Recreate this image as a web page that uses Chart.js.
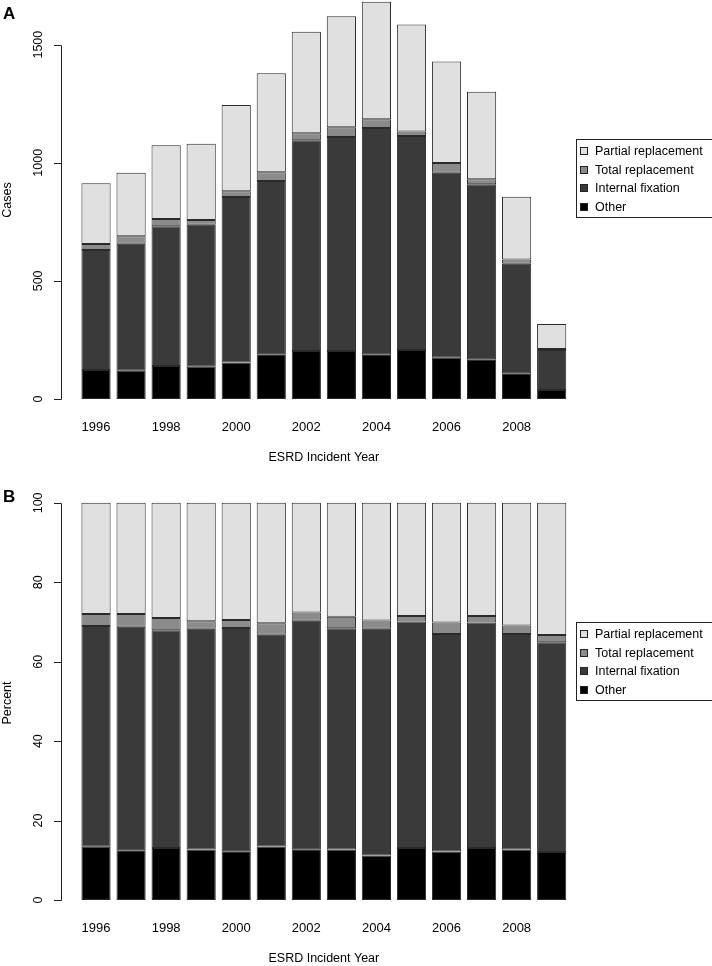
<!DOCTYPE html>
<html>
<head>
<meta charset="utf-8">
<title>Hip fracture surgery by ESRD incident year</title>
<script src="https://cdn.jsdelivr.net/npm/chart.js@4.4.1/dist/chart.umd.min.js"></script>
<style>
  html, body { margin: 0; padding: 0; background: #fff; }
  canvas { display: block; }
</style>
</head>
<body>
<canvas id="casesChart" width="712" height="483"></canvas>
<canvas id="pctChart" width="712" height="483"></canvas>
<script>
// categories
const YEARS = ['1996','1997','1998','1999','2000','2001','2002','2003','2004','2005','2006','2007','2008','2009'];
const YEAR_TICKS = ['1996','1998','2000','2002','2004','2006','2008'];

// panel A: counts
const CASES_OTHER    = [123, 120, 140, 137, 154, 189, 203, 203, 189, 207, 175, 168, 109, 38];
const CASES_INTERNAL = [508, 537, 591, 601, 701, 734, 892, 906, 958, 906, 783, 741, 464, 169];
const CASES_TOTAL    = [25, 32, 31, 20, 24, 37, 30, 41, 37, 19, 41, 21, 18, 5];
const CASES_PARTIAL  = [257, 269, 312, 323, 366, 419, 430, 470, 498, 453, 430, 371, 265, 105];
const CASES_TICKS = [0, 500, 1000, 1500];

// panel B: percent
const PCT_OTHER    = [13.4, 12.5, 13.1, 12.7, 12.3, 13.5, 12.8, 12.7, 11.2, 13.1, 12.2, 13.1, 12.7, 12.1];
const PCT_INTERNAL = [55.6, 56.3, 54.8, 55.6, 56.2, 53.3, 57.5, 55.7, 57.1, 57.0, 54.8, 56.8, 54.3, 52.8];
const PCT_TOTAL    = [3.0, 3.2, 3.1, 1.9, 2.0, 2.9, 2.1, 2.9, 2.1, 1.4, 2.9, 1.6, 2.1, 1.8];
const PCT_PARTIAL  = [28.0, 28.0, 29.0, 29.8, 29.5, 30.3, 27.6, 28.7, 29.6, 28.5, 30.1, 28.5, 30.9, 33.3];
const PCT_TICKS = [0, 20, 40, 60, 80, 100];

const SERIES = ['Other', 'Internal fixation', 'Total replacement', 'Partial replacement'];
const FILLS = ['#000000', '#3a3a3a', '#8b8b8b', '#e0e0e0'];

const FONT = '"Liberation Sans", Arial, Helvetica, sans-serif';

// R-style left axis, detached from the plot area
const rAxis = {
  id: 'rAxis',
  afterDraw(chart, args, o) {
    const { ctx } = chart;
    const y = chart.scales.y;
    const px = v => Math.round(y.getPixelForValue(v)) + 0.5;
    ctx.save();
    ctx.strokeStyle = '#222';
    ctx.lineWidth = 1;
    ctx.beginPath();
    ctx.moveTo(o.x + 0.5, px(o.ticks[0]));
    ctx.lineTo(o.x + 0.5, px(o.ticks[o.ticks.length - 1]));
    o.ticks.forEach(v => {
      ctx.moveTo(o.x + 0.5, px(v));
      ctx.lineTo(o.x - 7, px(v));
    });
    ctx.stroke();

    ctx.fillStyle = '#000';
    ctx.textAlign = 'center';
    ctx.textBaseline = 'middle';
    ctx.font = '12.5px ' + FONT;
    o.ticks.forEach(v => {
      ctx.save();
      ctx.translate(o.x - 22, y.getPixelForValue(v));
      ctx.rotate(-Math.PI / 2);
      ctx.fillText(String(v), 0, 0);
      ctx.restore();
    });
    ctx.save();
    ctx.translate(8, o.titleY);
    ctx.rotate(-Math.PI / 2);
    ctx.fillText(o.title, 0, 0);
    ctx.restore();

    ctx.font = 'bold 17px ' + FONT;
    ctx.textAlign = 'left';
    ctx.textBaseline = 'alphabetic';
    ctx.fillText(o.letter, 3, 19);
    ctx.restore();
  }
};

// boxed legend, top series first
const boxLegend = {
  id: 'boxLegend',
  afterDraw(chart, args, o) {
    const { ctx } = chart;
    const items = chart.data.datasets.slice().reverse();
    ctx.save();
    ctx.strokeStyle = '#222';
    ctx.lineWidth = 1;
    ctx.strokeRect(o.left + 0.5, o.top + 0.5, 200, o.height);
    ctx.font = '12.5px ' + FONT;
    ctx.textAlign = 'left';
    ctx.textBaseline = 'middle';
    items.forEach((ds, i) => {
      const cy = Math.round(o.top + 12 + i * 18.7);
      ctx.fillStyle = ds.backgroundColor;
      ctx.fillRect(581, cy - 3, 6, 6);
      ctx.strokeRect(580.5, cy - 3.5, 7, 7);
      ctx.fillStyle = '#000';
      ctx.fillText(ds.label, 595, cy + 1);
    });
    ctx.restore();
  }
};

function datasets(cols) {
  return cols.map((data, i) => ({
    label: SERIES[i],
    data,
    backgroundColor: FILLS[i],
    borderColor: '#2a2a2a',
    borderWidth: 1,
    borderSkipped: false,
    categoryPercentage: 1,
    barPercentage: 0.833
  }));
}

function makeChart(id, cols, opts) {
  return new Chart(document.getElementById(id), {
    type: 'bar',
    data: { labels: YEARS, datasets: datasets(cols) },
    options: {
      responsive: false,
      animation: false,
      layout: { padding: { left: 78.5, right: 142.8, top: 0, bottom: opts.padBottom } },
      plugins: {
        legend: { display: false },
        tooltip: { enabled: false },
        rAxis: { x: 61, ticks: opts.ticks, title: opts.title, titleY: opts.titleY, letter: opts.letter },
        boxLegend: { left: 576, top: 139, height: 78 }
      },
      scales: {
        x: {
          stacked: true,
          grid: { display: false, drawTicks: false },
          border: { display: false },
          ticks: {
            autoSkip: false,
            maxRotation: 0,
            padding: 21,
            color: '#000',
            font: { family: FONT, size: 13 },
            callback: (v, i) => YEAR_TICKS.includes(YEARS[i]) ? YEARS[i] : ''
          },
          title: {
            display: true,
            text: 'ESRD Incident Year',
            color: '#000',
            font: { family: FONT, size: 12.5 },
            padding: { top: 0, bottom: 0 }
          },
          afterFit: s => { s.height = 66; }
        },
        y: {
          stacked: true,
          display: false,
          min: 0,
          max: opts.max
        }
      }
    },
    plugins: [rAxis, boxLegend]
  });
}

makeChart('casesChart', [CASES_OTHER, CASES_INTERNAL, CASES_TOTAL, CASES_PARTIAL],
  { ticks: CASES_TICKS, title: 'Cases', titleY: 200, letter: 'A', max: 1689, padBottom: 18 });
makeChart('pctChart', [PCT_OTHER, PCT_INTERNAL, PCT_TOTAL, PCT_PARTIAL],
  { ticks: PCT_TICKS, title: 'Percent', titleY: 220, letter: 'B', max: 105, padBottom: 0 });
</script>
</body>
</html>
